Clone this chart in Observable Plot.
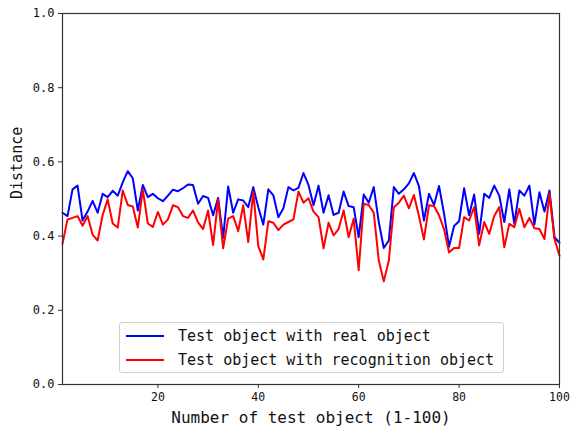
<!DOCTYPE html>
<html>
<head>
<meta charset="utf-8">
<script src="https://cdn.jsdelivr.net/npm/d3@7"></script>
<script src="https://cdn.jsdelivr.net/npm/@observablehq/plot@0.6"></script>
<style>
  body { margin: 0; background: #fff; }
  #wrap { position: relative; width: 570px; height: 432px; font-family: "DejaVu Sans Mono", monospace; }
  #legend { position: absolute; left: 119px; top: 322px; width: 385px; height: 51px; box-sizing: border-box;
    border: 1px solid #d0d0d0; border-radius: 3px; background: rgba(255,255,255,0.85); font-size: 15px; color: #111; }
  .row { position: absolute; left: 6px; height: 20px; display: flex; align-items: center; }
  .sw { width: 38px; height: 0; border-top: 2px solid; margin-right: 14px; }
</style>
</head>
<body>
<div id="wrap"></div>
<script>
const seriesNames = ["Test object with real object", "Test object with recognition object"];
const seriesColors = ["#0000ff", "#ff0000"];
const xLabel = "Number of test object (1-100)";
const yLabel = "Distance";
const xTicks = [20, 40, 60, 80, 100];
const yTicks = [0, 0.2, 0.4, 0.6, 0.8, 1.0];

const realObject = [
  0.463, 0.454, 0.526, 0.536, 0.442, 0.466, 0.495, 0.463, 0.514, 0.505,
  0.522, 0.509, 0.545, 0.575, 0.556, 0.469, 0.538, 0.505, 0.514, 0.502,
  0.494, 0.509, 0.525, 0.521, 0.529, 0.539, 0.538, 0.487, 0.508, 0.503,
  0.456, 0.503, 0.395, 0.534, 0.463, 0.499, 0.496, 0.478, 0.532, 0.478,
  0.431, 0.526, 0.510, 0.451, 0.475, 0.532, 0.523, 0.530, 0.570, 0.538,
  0.483, 0.536, 0.463, 0.510, 0.457, 0.463, 0.520, 0.481, 0.478, 0.397,
  0.512, 0.490, 0.532, 0.438, 0.368, 0.388, 0.532, 0.514, 0.526, 0.542,
  0.570, 0.535, 0.442, 0.514, 0.484, 0.535, 0.461, 0.371, 0.427, 0.440,
  0.529, 0.456, 0.512, 0.406, 0.514, 0.503, 0.536, 0.509, 0.438, 0.526,
  0.433, 0.523, 0.509, 0.536, 0.431, 0.518, 0.466, 0.523, 0.397, 0.382
];
const recognitionObject = [
  0.379, 0.445, 0.449, 0.454, 0.428, 0.454, 0.404, 0.388, 0.457, 0.499,
  0.434, 0.423, 0.523, 0.484, 0.480, 0.423, 0.525, 0.434, 0.425, 0.465,
  0.431, 0.445, 0.483, 0.478, 0.454, 0.449, 0.469, 0.437, 0.419, 0.469,
  0.376, 0.499, 0.367, 0.447, 0.454, 0.413, 0.483, 0.384, 0.520, 0.373,
  0.337, 0.440, 0.436, 0.416, 0.431, 0.438, 0.445, 0.520, 0.490, 0.502,
  0.466, 0.451, 0.367, 0.436, 0.402, 0.419, 0.469, 0.397, 0.447, 0.308,
  0.487, 0.484, 0.463, 0.334, 0.278, 0.334, 0.478, 0.490, 0.509, 0.475,
  0.511, 0.454, 0.391, 0.483, 0.481, 0.456, 0.419, 0.356, 0.368, 0.368,
  0.451, 0.442, 0.478, 0.375, 0.438, 0.406, 0.454, 0.478, 0.370, 0.433,
  0.424, 0.474, 0.424, 0.449, 0.421, 0.419, 0.392, 0.514, 0.392, 0.347
];
const objectNumber = d3.range(1, realObject.length + 1);

const rows = [];
objectNumber.forEach((n, i) => {
  rows.push({n, v: realObject[i], s: seriesNames[0]});
  rows.push({n, v: recognitionObject[i], s: seriesNames[1]});
});

const chart = Plot.plot({
  width: 570,
  height: 432,
  marginLeft: 62,
  marginRight: 11,
  marginTop: 13,
  marginBottom: 48,
  style: { fontFamily: "DejaVu Sans Mono, monospace", background: "#fff", color: "#111" },
  x: { domain: [1, 100] },
  y: { domain: [0, 1] },
  color: { domain: seriesNames, range: seriesColors },
  marks: [
    Plot.line(rows, { x: "n", y: "v", z: "s", stroke: "s", strokeWidth: 2, strokeLinejoin: "round" }),
    Plot.frame({ stroke: "#333", strokeWidth: 1.2 }),
    Plot.axisX({ ticks: xTicks, tickSize: 4, tickPadding: 4, fontSize: 11.5, label: null, stroke: "#333" }),
    Plot.axisY({ ticks: yTicks, tickSize: 4, tickPadding: 4, fontSize: 12, label: null, tickFormat: d3.format(".1f"), stroke: "#333" }),
    Plot.text([xLabel], { text: d => d, frameAnchor: "bottom", dy: 38, fontSize: 16, fill: "#111" }),
    Plot.text([yLabel], { text: d => d, frameAnchor: "left", rotate: -90, dx: -45, fontSize: 15, fill: "#111" })
  ]
});

const wrap = document.getElementById("wrap");
wrap.appendChild(chart);

const legend = document.createElement("div");
legend.id = "legend";
seriesNames.forEach((name, i) => {
  const row = document.createElement("div");
  row.className = "row";
  row.style.top = (3 + i * 24) + "px";
  const sw = document.createElement("span");
  sw.className = "sw";
  sw.style.borderTopColor = seriesColors[i];
  const t = document.createElement("span");
  t.textContent = name;
  row.appendChild(sw);
  row.appendChild(t);
  legend.appendChild(row);
});
wrap.appendChild(legend);
</script>
</body>
</html>
